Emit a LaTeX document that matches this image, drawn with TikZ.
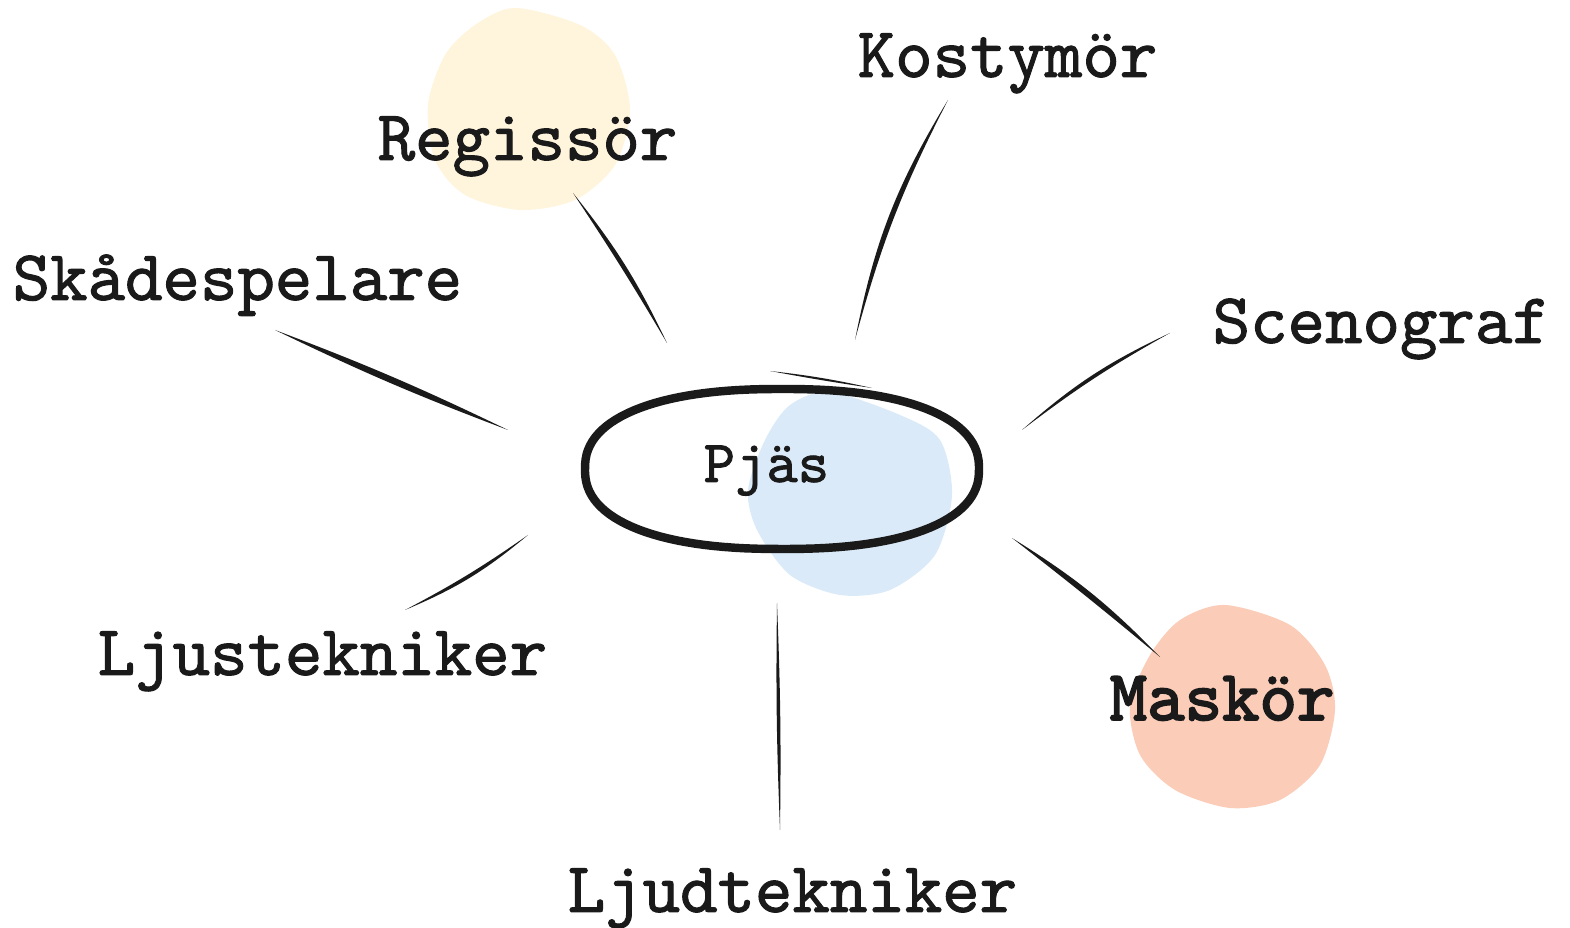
\documentclass[tikz,border=0pt]{standalone}
\usepackage{fontspec}
\newfontfamily\typewriter{lmmono10-regular}[Extension=.otf, FakeBold=1.4]
\newfontfamily\typewriterheavy{lmmono10-regular}[Extension=.otf, FakeBold=2.6]
\usetikzlibrary{positioning}
\definecolor{ink}{HTML}{1A1A1A}
\definecolor{blobyellow}{HTML}{FFF4DC}
\definecolor{blobblue}{HTML}{DAEAF8}
\definecolor{bloborange}{HTML}{FBCDB8}
\tikzset{
  role/.style={font=\typewriter\fontsize{20.3}{24}\selectfont, text=ink, inner sep=0pt, anchor=base west},
  spoke/.style={fill=ink},
}

\begin{document}
\begin{tikzpicture}
\useasboundingbox (0,0) rectangle (15.70,-9.28);
% blobs
\fill[blobyellow] plot[smooth cycle] coordinates {(5.15,-0.08) (5.80,-0.25) (6.15,-0.55) (6.30,-1.10) (6.15,-1.65) (5.75,-2.00) (5.20,-2.10) (4.65,-1.95) (4.35,-1.60) (4.28,-1.05) (4.45,-0.55) (4.75,-0.25)};
\fill[blobblue] plot[smooth cycle] coordinates {(8.30,-3.92) (9.00,-4.15) (9.40,-4.40) (9.52,-4.95) (9.35,-5.55) (8.90,-5.90) (8.40,-5.95) (7.90,-5.75) (7.57,-5.30) (7.48,-4.90) (7.65,-4.40) (7.90,-4.05)};
\fill[bloborange] plot[smooth cycle] coordinates {(12.25,-6.05) (12.90,-6.25) (13.25,-6.65) (13.35,-7.10) (13.20,-7.65) (12.80,-8.00) (12.30,-8.08) (11.75,-7.90) (11.40,-7.55) (11.30,-7.05) (11.50,-6.55) (11.80,-6.20)};
% nodes
\node[role, font=\typewriter\fontsize{17}{20}\selectfont] (pjas) at (7.03,-4.82) {Pjäs};
\node[role] (kostymor) at (8.57,-0.77) {Kostymör};
\node[role] (regissor) at (3.77,-1.60) {Regissör};
\node[role] (skadespelare) at (0.12,-3.00) {Skådespelare};
\node[role] (scenograf) at (12.12,-3.43) {Scenograf};
\node[role] (ljustekniker) at (0.97,-6.75) {Ljustekniker};
\node[role, font=\typewriterheavy\fontsize{20.3}{24}\selectfont] (maskor) at (11.09,-7.20) {Maskör};
\node[role] (ljudtekniker) at (5.67,-9.12) {Ljudtekniker};
% ring round Pjäs
\draw[ink, line width=2.4pt] plot[variable=\t, domain=1:361, samples=121]
  ({7.82+1.97*sign(cos(\t))*abs(cos(\t))^0.86}, {-4.69+0.80*sign(sin(\t))*abs(sin(\t))^0.86}) -- cycle;
\coordinate (tail-a) at (7.70,-3.71);
\coordinate (tail-b) at (8.72,-3.88);
\fill[spoke] (tail-a) to[bend left=3] (tail-b) to[bend left=1] (tail-a);
% spokes
\coordinate (reg-a) at (5.73,-1.93);     \coordinate (reg-b) at (6.67,-3.43);
\coordinate (kos-a) at (9.48,-1.00);     \coordinate (kos-b) at (8.55,-3.40);
\coordinate (ska-a) at (2.75,-3.30);     \coordinate (ska-b) at (5.08,-4.30);
\coordinate (sce-a) at (11.70,-3.33);    \coordinate (sce-b) at (10.22,-4.30);
\coordinate (ljus-a) at (5.28,-5.35);    \coordinate (ljus-b) at (4.05,-6.10);
\coordinate (mas-a) at (10.12,-5.38);    \coordinate (mas-b) at (11.60,-6.57);
\coordinate (ljud-a) at (7.77,-6.03);    \coordinate (ljud-b) at (7.80,-8.30);
\fill[spoke] (reg-a) to[bend left=6.5] (reg-b) to[bend left=-1.5] (reg-a);
\fill[spoke] (kos-a) to[bend left=-6] (kos-b) to[bend left=10] (kos-a);
\fill[spoke] (ska-a) to[bend left=2.5] (ska-b) to[bend left=2.5] (ska-a);
\fill[spoke] (sce-a) to[bend left=-4] (sce-b) to[bend left=8] (sce-a);
\fill[spoke] (ljus-a) to[bend left=8.5] (ljus-b) to[bend left=-3.5] (ljus-a);
\fill[spoke] (mas-a) to[bend left=7] (mas-b) to[bend left=-1] (mas-a);
\fill[spoke] (ljud-a) to[bend left=1.5] (ljud-b) to[bend left=1.5] (ljud-a);
\end{tikzpicture}
\end{document}
